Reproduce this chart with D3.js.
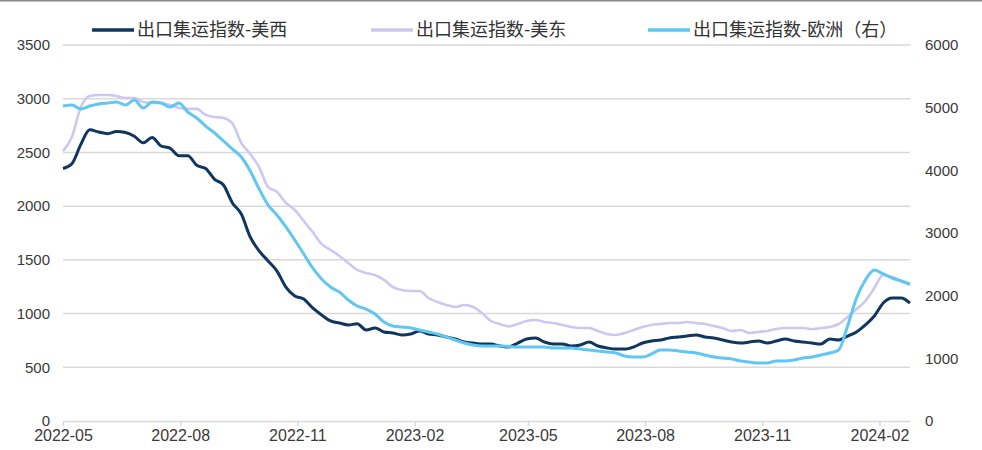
<!DOCTYPE html>
<html>
<head>
<meta charset="utf-8">
<script src="https://cdn.jsdelivr.net/npm/d3@7"></script>
<style>
  body { margin: 0; background: #fff; }
  svg { display: block; font-family: "Liberation Sans", Arial, sans-serif; }
</style>
</head>
<body>
<div id="chart"></div>
<script>
// weekly index values, first week 2022-05-01
const startDay = "2022-05-01";
const tickLabels = ["2022-05", "2022-08", "2022-11", "2023-02", "2023-05", "2023-08", "2023-11", "2024-02"];
const seriesNames = ["出口集运指数-美西", "出口集运指数-美东", "出口集运指数-欧洲（右）"];
const leftTicks = [0, 500, 1000, 1500, 2000, 2500, 3000, 3500];
const rightTicks = [0, 1000, 2000, 3000, 4000, 5000, 6000];

const usWest = [
  2350, 2395, 2575, 2710, 2690, 2675, 2695, 2685, 2650, 2590,
  2640, 2560, 2540, 2470, 2470, 2380, 2350, 2250, 2197, 2030,
  1927, 1713, 1583, 1490, 1396, 1247, 1164, 1136, 1052, 987,
  931, 912, 894, 905, 847, 866, 829, 819, 801, 810,
  838, 810, 801, 782, 763, 735, 726, 717, 717, 698,
  689,
  726, 763, 773, 735, 717, 717, 698, 707, 735, 698,
  680, 670, 670, 689, 726, 745, 754, 773, 782, 791,
  801, 782, 773, 754, 735, 726, 735, 745, 726, 745,
  763, 745, 735, 726, 717, 763, 754, 791, 829, 894,
  977, 1098, 1145, 1145, 1098
];

const usEast = [
  2513, 2644, 2923, 3025, 3035, 3035, 3025, 3007, 3007, 2970,
  2960, 2960, 2942, 2914, 2905, 2905, 2849, 2830, 2821, 2770,
  2588, 2485, 2364, 2178, 2132, 2030, 1964, 1862, 1759, 1648,
  1592, 1536, 1471, 1406, 1378, 1359, 1313, 1247, 1219, 1210,
  1210, 1145, 1108, 1080, 1061, 1080, 1061, 1005, 931, 903,
  880,
  903, 931, 940, 922, 912, 894, 875, 866, 866, 838,
  810, 801, 819, 847, 875, 894, 903, 912, 912, 922,
  912, 903, 884, 866, 838, 847, 819, 829, 838, 856,
  866, 866, 866, 856, 866, 875, 903, 968, 1043, 1117,
  1238, 1359, 1340, 1303, 1266
];

const europe = [
  5026, 5042, 4979, 5026, 5058, 5074, 5090, 5042, 5122, 4995,
  5090, 5074, 5010, 5074, 4931, 4835, 4707, 4596, 4468, 4340,
  4213, 3990, 3702, 3447, 3287, 3096, 2888, 2665, 2442, 2266,
  2138, 2058, 1931, 1835, 1787, 1707, 1580, 1516, 1500, 1484,
  1452, 1420, 1388, 1340, 1292, 1245, 1213, 1197, 1197, 1197,
  1190,
  1181, 1181, 1181, 1181, 1165, 1165, 1165, 1149, 1133, 1117,
  1101, 1085, 1037, 1021, 1021, 1069, 1133, 1133, 1117, 1101,
  1085, 1053, 1021, 1005, 989, 957, 941, 925, 925, 957,
  957, 973, 1005, 1021, 1053, 1085, 1133, 1516, 1963, 2250,
  2410, 2346, 2282, 2234, 2186
];

const colors = ["#0f365f", "#cdc7f1", "#60c6f2"];

const svgWidth = 982;
const svgHeight = 450;
const margin = { top: 45, right: 72, bottom: 29, left: 63 };
const width = svgWidth - margin.left - margin.right;
const height = svgHeight - margin.top - margin.bottom;

const parseDay = d3.timeParse("%Y-%m-%d");
const parseMonth = d3.timeParse("%Y-%m");
const start = parseDay(startDay);
const dates = usWest.map((d, i) => d3.timeDay.offset(start, i * 7));

const svg = d3.select("#chart").append("svg")
  .attr("width", svgWidth)
  .attr("height", svgHeight);

svg.append("rect").attr("width", svgWidth).attr("height", svgHeight).attr("fill", "#fff");
// thin frame line at the very top
svg.append("line")
  .attr("x1", 0).attr("x2", svgWidth).attr("y1", 0.8).attr("y2", 0.8)
  .attr("stroke", "#8a8a8a").attr("stroke-width", 1.6);

const g = svg.append("g")
  .attr("transform", "translate(" + margin.left + "," + margin.top + ")");

const x = d3.scaleTime()
  .domain(d3.extent(dates))
  .range([0, width]);

const yLeft = d3.scaleLinear().domain([0, 3500]).range([height, 0]);
const yRight = d3.scaleLinear().domain([0, 6000]).range([height, 0]);

// gridlines
g.append("g")
  .selectAll("line")
  .data(leftTicks.filter(d => d > 0))
  .enter().append("line")
  .attr("x1", 0)
  .attr("x2", width)
  .attr("y1", d => yLeft(d))
  .attr("y2", d => yLeft(d))
  .attr("stroke", "#d9d9d9")
  .attr("stroke-width", 1.5);

// x axis
const xAxis = g.append("g")
  .attr("transform", "translate(0," + height + ")")
  .call(d3.axisBottom(x)
    .tickValues(tickLabels.map(parseMonth))
    .tickFormat(d3.timeFormat("%Y-%m"))
    .tickSize(5)
    .tickSizeOuter(0)
    .tickPadding(4));
xAxis.select(".domain").attr("stroke", "#d9d9d9").attr("stroke-width", 1.5);
xAxis.selectAll(".tick line").attr("stroke", "#d9d9d9").attr("stroke-width", 1.5);
xAxis.selectAll("text")
  .style("font-size", "16px")
  .attr("fill", "#3a3a3a");

// left axis
const leftAxis = g.append("g")
  .call(d3.axisLeft(yLeft).tickValues(leftTicks).tickFormat(d3.format("d")).tickSize(0).tickPadding(13));
leftAxis.select(".domain").remove();
leftAxis.selectAll("text").style("font-size", "15px").attr("fill", "#3a3a3a");

// right axis
const rightAxis = g.append("g")
  .attr("transform", "translate(" + width + ",0)")
  .call(d3.axisRight(yRight).tickValues(rightTicks).tickFormat(d3.format("d")).tickSize(0).tickPadding(15));
rightAxis.select(".domain").remove();
rightAxis.selectAll("text").style("font-size", "15px").attr("fill", "#3a3a3a");

// lines
const lineLeft = d3.line()
  .x((d, i) => x(dates[i]))
  .y(d => yLeft(d))
  .curve(d3.curveMonotoneX);

const lineRight = d3.line()
  .x((d, i) => x(dates[i]))
  .y(d => yRight(d))
  .curve(d3.curveMonotoneX);

g.append("path")
  .datum(usEast)
  .attr("fill", "none")
  .attr("stroke", colors[1])
  .attr("stroke-width", 2.6)
  .attr("stroke-linejoin", "round")
  .attr("d", lineLeft);

g.append("path")
  .datum(usWest)
  .attr("fill", "none")
  .attr("stroke", colors[0])
  .attr("stroke-width", 3)
  .attr("stroke-linejoin", "round")
  .attr("d", lineLeft);

g.append("path")
  .datum(europe)
  .attr("fill", "none")
  .attr("stroke", colors[2])
  .attr("stroke-width", 3)
  .attr("stroke-linejoin", "round")
  .attr("d", lineRight);

// legend
const legendX = [92, 371, 648];
const legend = svg.append("g");
seriesNames.forEach((name, i) => {
  legend.append("line")
    .attr("x1", legendX[i])
    .attr("x2", legendX[i] + 42)
    .attr("y1", 30)
    .attr("y2", 30)
    .attr("stroke", colors[i])
    .attr("stroke-width", 3.5);
  legend.append("text")
    .attr("x", legendX[i] + 45)
    .attr("y", 30)
    .attr("dy", "0.35em")
    .style("font-family", "'Noto Sans CJK SC', sans-serif")
    .style("font-size", "18px")
    .attr("fill", "#333")
    .text(name);
});
</script>
</body>
</html>
